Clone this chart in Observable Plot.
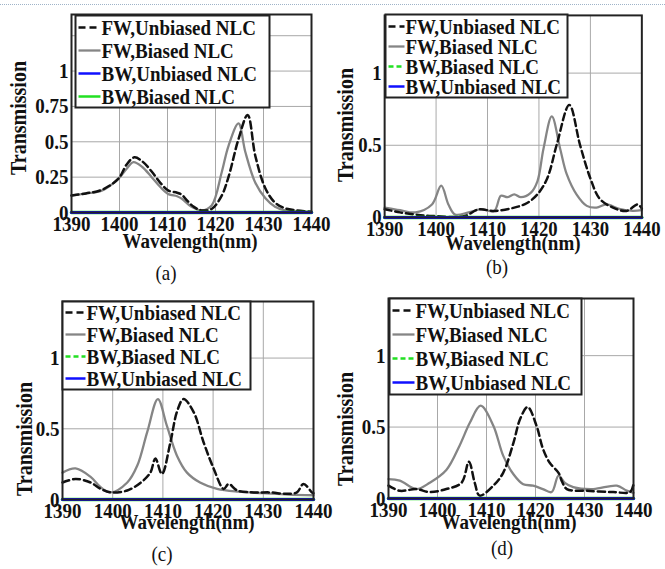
<!DOCTYPE html>
<html>
<head>
<meta charset="utf-8">
<script src="https://cdn.jsdelivr.net/npm/d3@7"></script>
<script src="https://cdn.jsdelivr.net/npm/@observablehq/plot@0.6"></script>
<style>
  html, body { margin: 0; padding: 0; background: #fff; }
  #page { position: relative; width: 665px; height: 569px; background: #fff; overflow: hidden;
          font-family: "Liberation Serif", "Times New Roman", Tinos, "DejaVu Serif", serif; color: #111; }
  .lbl { position: absolute; white-space: nowrap; line-height: 1; }
  .b { font-weight: bold; }
  .topline { position: absolute; left: 0; top: 4px; width: 665px; border-top: 1px dotted #9fb3c8; }
  .panel { position: absolute; }
</style>
</head>
<body>
<div id="page"><div class="topline"></div></div>
<script>
// ---------- data ----------
const xTicks = [1390, 1400, 1410, 1420, 1430, 1440];
const yTicksA = [0, 0.25, 0.5, 0.75, 1];
const yGridA = [0.25, 0.5, 0.75, 1, 1.25];
const yTicksB = [0, 0.5, 1];
const yGridB = [0.5, 1];

const bwWl = [1390, 1440];
const bwT = [0, 0];

// (a)
const aUnbWl = [1390,1393,1396.3,1399.8,1401.5,1403.1,1404.8,1406.7,1408.5,1410.2,1412,1413,1414.2,1415.5,1417.1,1419.2,1421.3,1422.7,1424.8,1426.7,1428.3,1430.4,1432.4,1434.5,1437,1440];
const aUnbT  = [0.12,0.135,0.16,0.24,0.34,0.39,0.36,0.29,0.21,0.155,0.14,0.125,0.08,0.04,0.015,0.025,0.12,0.25,0.52,0.69,0.40,0.17,0.07,0.03,0.015,0.005];
const aBiaWl = [1390,1393,1396.3,1399.8,1401.5,1402.9,1404.8,1406.7,1408.5,1410.2,1412,1413,1415,1417.1,1419.2,1421.3,1422.7,1424.8,1426.2,1428.3,1430.4,1432.4,1434.5,1437,1440];
const aBiaT  = [0.12,0.135,0.155,0.24,0.31,0.356,0.32,0.25,0.18,0.13,0.115,0.097,0.04,0.015,0.05,0.285,0.47,0.63,0.43,0.21,0.10,0.04,0.015,0.01,0.005];

// (b)
const bUnbWl = [1390,1393,1396,1399.2,1405.6,1408.2,1411.3,1415.2,1417.7,1419.7,1421.6,1423.5,1425.9,1428,1430,1431.8,1434.4,1437,1439.2,1440];
const bUnbT  = [0.057,0.035,0.02,0.01,0.01,0.055,0.045,0.068,0.1,0.16,0.27,0.51,0.78,0.50,0.27,0.13,0.068,0.045,0.09,0.06];
const bBiaWl = [1390,1393,1396,1399.2,1401,1402.4,1403.7,1406.3,1408.8,1411.3,1412.6,1413.9,1415.2,1416.5,1418.4,1419.7,1420.9,1422.5,1424.1,1425.4,1427.3,1429.3,1431.2,1433.1,1435.6,1438.2,1440];
const bBiaT  = [0.068,0.05,0.035,0.09,0.22,0.09,0.02,0.035,0.057,0.045,0.15,0.14,0.16,0.14,0.17,0.25,0.48,0.70,0.48,0.30,0.16,0.08,0.068,0.09,0.06,0.045,0.05];

// (c)
const cUnbWl = [1390,1392.6,1395.6,1397.6,1399.6,1402.9,1405.6,1407.5,1408.5,1409.8,1411.5,1412.8,1414.1,1416.1,1418.1,1420.1,1422.1,1423.1,1424.8,1428.1,1431.4,1434.7,1436.7,1438,1439.7,1440];
const cUnbT  = [0.12,0.145,0.12,0.075,0.05,0.064,0.12,0.19,0.29,0.18,0.405,0.62,0.71,0.62,0.405,0.22,0.075,0.11,0.064,0.05,0.05,0.04,0.05,0.11,0.05,0.045];
const cBiaWl = [1390,1392.6,1395.6,1397.6,1399.6,1402.9,1404.9,1406.9,1409,1410.8,1412.8,1414.8,1417.4,1420.8,1425,1430,1435,1440];
const cBiaT  = [0.19,0.22,0.16,0.087,0.05,0.12,0.24,0.48,0.71,0.52,0.31,0.19,0.12,0.075,0.055,0.045,0.035,0.03];

// (d)
const dUnbWl = [1390,1392.3,1395.7,1398.4,1401.8,1404.9,1406.4,1407.6,1408.6,1411.4,1413.4,1415.5,1416.9,1418.4,1420.2,1421.5,1422.9,1424.7,1425.4,1426.4,1430.5,1435.9,1439.3,1440];
const dUnbT  = [0.09,0.054,0.066,0.045,0.066,0.11,0.257,0.11,0.02,0.09,0.18,0.39,0.56,0.64,0.51,0.35,0.25,0.18,0.12,0.066,0.054,0.045,0.045,0.1];
const dBiaWl = [1390,1392.3,1395.7,1398.4,1401.8,1404.5,1406.6,1408.8,1411.4,1413.4,1415.5,1417.5,1419.5,1421.5,1423.3,1424.7,1426,1427.7,1431.8,1436.6,1438.6,1440];
const dBiaT  = [0.136,0.125,0.066,0.11,0.2,0.37,0.53,0.65,0.51,0.30,0.17,0.10,0.09,0.066,0.045,0.16,0.11,0.08,0.066,0.09,0.055,0.04];

const seriesNamesA = ["FW,Unbiased NLC", "FW,Biased NLC", "BW,Unbiased NLC", "BW,Biased NLC"];
const seriesNamesB = ["FW,Unbiased NLC", "FW,Biased NLC", "BW,Biased NLC", "BW,Unbiased NLC"];
const panelLetters = ["(a)", "(b)", "(c)", "(d)"];

// ---------- styles ----------
const FONT = "'Liberation Serif', 'Times New Roman', Tinos, 'DejaVu Serif', serif";
const BLUE = "#1010ff", GREEN = "#22e022", GRAY = "#858585", BLACK = "#111";
const DASH = "7,4";
const styleOf = {
  "FW,Unbiased NLC": {stroke: BLACK, width: 2.5, dash: DASH},
  "FW,Biased NLC": {stroke: GRAY, width: 2.3, dash: null},
  "BW,Unbiased NLC": {stroke: BLUE, width: 2.5, dash: null},
  "BW,Biased NLC a": {stroke: GREEN, width: 2.5, dash: null},
  "BW,Biased NLC": {stroke: GREEN, width: 2.5, dash: "5,3"}
};

const panels = [
  {L: 71, R: 311, T: 14, B: 212, yTicks: yTicksA, yGrid: yGridA, unbWl: aUnbWl, unbT: aUnbT, biaWl: aBiaWl, biaT: aBiaT,
   names: seriesNamesA, greenDash: false,
   legend: {x: 75, y: 15, w: 194, h: 92, sw: 22},
   ylab: [18, 118], xlab: [190, 241], letter: [166, 273]},
  {L: 385, R: 646, T: 15, B: 220, yTicks: yTicksB, yGrid: yGridB, unbWl: bUnbWl, unbT: bUnbT, biaWl: bBiaWl, biaT: bBiaT,
   names: seriesNamesB, greenDash: true,
   legend: {x: 385, y: 14, w: 182, h: 83, sw: 16},
   ylab: [345, 125], xlab: [513, 243], letter: [497, 267]},
  {L: 62, R: 313, T: 301, B: 499, yTicks: yTicksB, yGrid: yGridB, unbWl: cUnbWl, unbT: cUnbT, biaWl: cBiaWl, biaT: cBiaT,
   names: seriesNamesB, greenDash: true,
   legend: {x: 62, y: 301, w: 188, h: 88, sw: 20},
   ylab: [24, 439], xlab: [187, 522], letter: [162, 554]},
  {L: 388, R: 633, T: 298, B: 498, yTicks: yTicksB, yGrid: yGridB, unbWl: dUnbWl, unbT: dUnbT, biaWl: dBiaWl, biaT: dBiaT,
   names: seriesNamesB, greenDash: true,
   legend: {x: 389, y: 298, w: 192, h: 96, sw: 22},
   ylab: [345, 429], xlab: [509, 522], letter: [502, 548]}
];

const page = document.getElementById("page");
const ML = 60, MT = 6, MR = 24, MB = 36;
const SY = 1.15; // vertical stretch of the reference lettering

function stretchTexts(svg) {
  svg.querySelectorAll("text").forEach(t => {
    const tr = t.getAttribute("transform");
    if (tr) t.setAttribute("transform", tr + ` scale(1,${SY})`);
  });
}

function addLabel(text, x, y, cls, size, rotate) {
  const d = document.createElement("div");
  d.className = "lbl " + cls;
  d.textContent = text;
  d.style.left = x + "px";
  d.style.top = y + "px";
  d.style.fontSize = size + "px";
  d.style.fontFamily = FONT;
  d.style.transform = rotate
    ? `translate(-50%, -50%) rotate(-90deg) scaleY(${SY})`
    : `translate(-50%, -50%) scaleY(${SY})`;
  page.appendChild(d);
}

panels.forEach((p, i) => {
  const unb = p.unbWl.map((w, k) => ({w, t: p.unbT[k]}));
  const bia = p.biaWl.map((w, k) => ({w, t: p.biaT[k]}));
  const bw = bwWl.map((w, k) => ({w, t: bwT[k]}));
  const {x: lx, y: ly, w: lw, h: lh, sw} = p.legend;
  const axisText = {fontSize: 19, fontWeight: "bold", fontFamily: FONT, fill: "#111"};

  const chart = Plot.plot({
    width: p.R - p.L + ML + MR,
    height: p.B - p.T + MT + MB,
    marginLeft: ML, marginRight: MR, marginTop: MT, marginBottom: MB,
    style: {fontFamily: FONT, fontWeight: "bold", fontSize: "19px", color: "#111", background: "transparent", overflow: "visible"},
    x: {domain: [1390, 1440], label: null},
    y: {domain: [0, 1.4], label: null},
    marks: [
      Plot.gridX(xTicks, {stroke: "#a8a8a8", strokeOpacity: 1, strokeWidth: 1}),
      Plot.gridY(p.yGrid, {stroke: "#a8a8a8", strokeOpacity: 1, strokeWidth: 1}),
      Plot.axisX(xTicks, {tickSize: 0, tickPadding: 3, tickFormat: d => String(d), label: null, ...axisText}),
      Plot.axisY(p.yTicks, {tickSize: 0, tickPadding: 3, tickFormat: d => String(d), label: null, ...axisText}),
      Plot.line(bia, {x: "w", y: "t", stroke: GRAY, strokeWidth: 2.3, curve: "catmull-rom"}),
      Plot.line(unb, {x: "w", y: "t", stroke: BLACK, strokeWidth: 2.5, strokeDasharray: DASH, curve: "catmull-rom"}),
      Plot.line(bw, {x: "w", y: "t", stroke: GREEN, strokeWidth: 3.5}),
      Plot.line(bw, {x: "w", y: "t", stroke: BLUE, strokeWidth: 3}),
      Plot.frame({stroke: "#222", strokeWidth: 2})
    ]
  });
  stretchTexts(chart);
  const wrap = document.createElement("div");
  wrap.className = "panel";
  wrap.style.left = (p.L - ML) + "px";
  wrap.style.top = (p.T - MT) + "px";
  wrap.appendChild(chart);
  page.appendChild(wrap);

  // legend: its own small Plot with a frame, line samples and names
  const rows = p.names.map(name => ({name}));
  const sampleMarks = p.names.map(name => {
    let s = styleOf[name];
    if (name === "BW,Biased NLC") s = p.greenDash ? styleOf["BW,Biased NLC"] : styleOf["BW,Biased NLC a"];
    return Plot.link([{name}], {x1: () => 3, x2: () => 3 + sw, y1: "name", y2: "name",
      stroke: s.stroke, strokeWidth: s.width, strokeDasharray: s.dash || undefined});
  });
  const legend = Plot.plot({
    width: lw, height: lh, margin: 0,
    style: {background: "#fff", overflow: "visible", fontFamily: FONT},
    x: {domain: [0, lw], range: [0, lw], axis: null},
    y: {type: "point", domain: p.names, range: [0, lh], padding: 0.5, axis: null},
    marks: [
      Plot.frame({fill: "#fff", stroke: "#222", strokeWidth: 2}),
      ...sampleMarks,
      Plot.text(rows, {x: () => 4 + sw, y: "name", text: "name", textAnchor: "start", lineAnchor: "middle",
        fontSize: 19, fontWeight: "bold", fontFamily: FONT, fill: "#111"})
    ]
  });
  stretchTexts(legend);
  const lwrap = document.createElement("div");
  lwrap.className = "panel";
  lwrap.style.left = lx + "px";
  lwrap.style.top = ly + "px";
  lwrap.style.zIndex = "10";
  lwrap.appendChild(legend);
  page.appendChild(lwrap);

  addLabel("Transmission", p.ylab[0], p.ylab[1], "b", 20, true);
  addLabel("Wavelength(nm)", p.xlab[0], p.xlab[1], "b", 19, false);
  addLabel(panelLetters[i], p.letter[0], p.letter[1], "", 19, false);
});
</script>
</body>
</html>
